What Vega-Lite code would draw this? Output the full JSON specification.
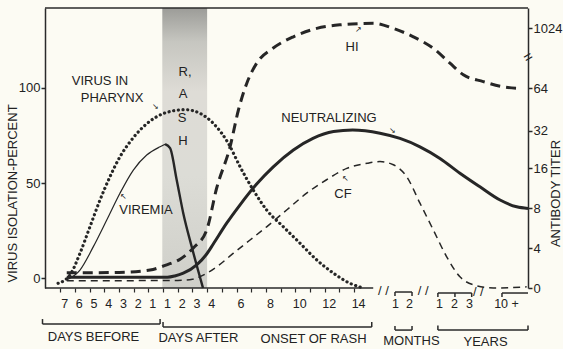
{
  "$schema": "https://vega.github.io/schema/vega-lite/v6.json",
  "width": 483,
  "height": 280,
  "autosize": {"type": "none"},
  "padding": {"left": 45, "top": 8, "right": 35, "bottom": 61},
  "background": "#fcfbf3",
  "config": {
    "view": {"stroke": null},
    "font": "Liberation Sans",
    "axis": {"labelFont": "Liberation Sans", "titleFont": "Liberation Sans", "labelColor": "#222222", "titleColor": "#222222", "domainColor": "#2a2a2a", "tickColor": "#2a2a2a", "grid": false}
  },
  "datasets": {
    "band": [{"t": -0.05, "t2": 3.0, "y": -5.26, "y2": 142.1}],
    "virus": [
      {"series": "pharynx", "t": -7.14, "y": -2.8},
      {"series": "pharynx", "t": -6.33, "y": 1.6},
      {"series": "pharynx", "t": -5.65, "y": 13},
      {"series": "pharynx", "t": -4.97, "y": 27},
      {"series": "pharynx", "t": -4.29, "y": 41},
      {"series": "pharynx", "t": -3.61, "y": 53.3},
      {"series": "pharynx", "t": -2.93, "y": 63.8},
      {"series": "pharynx", "t": -2.24, "y": 71.7},
      {"series": "pharynx", "t": -1.34, "y": 79.6},
      {"series": "pharynx", "t": -0.43, "y": 84.9},
      {"series": "pharynx", "t": 0.7, "y": 88},
      {"series": "pharynx", "t": 1.5, "y": 88.6},
      {"series": "pharynx", "t": 2.5, "y": 86.7},
      {"series": "pharynx", "t": 3.42, "y": 81.4},
      {"series": "pharynx", "t": 4.44, "y": 70.9},
      {"series": "pharynx", "t": 5.24, "y": 58.6},
      {"series": "pharynx", "t": 6.14, "y": 46.3},
      {"series": "pharynx", "t": 7.05, "y": 35.8},
      {"series": "pharynx", "t": 8.18, "y": 27},
      {"series": "pharynx", "t": 9.32, "y": 18.3},
      {"series": "pharynx", "t": 10.46, "y": 9.5},
      {"series": "pharynx", "t": 11.6, "y": 2.5},
      {"series": "pharynx", "t": 12.72, "y": -2.8},
      {"series": "pharynx", "t": 13.6, "y": -5.2},
      {"series": "viremia_rise", "t": -6.55, "y": -1},
      {"series": "viremia_rise", "t": -5.65, "y": 4.2},
      {"series": "viremia_rise", "t": -4.74, "y": 16.5},
      {"series": "viremia_rise", "t": -3.83, "y": 30.5},
      {"series": "viremia_rise", "t": -2.93, "y": 44.6},
      {"series": "viremia_rise", "t": -2.02, "y": 56.8},
      {"series": "viremia_rise", "t": -1.11, "y": 64.7},
      {"series": "viremia_rise", "t": -0.2, "y": 69.1},
      {"series": "viremia_rise", "t": 0.14, "y": 70.4},
      {"series": "viremia_fall", "t": 0.14, "y": 70.4},
      {"series": "viremia_fall", "t": 0.48, "y": 68.3},
      {"series": "viremia_fall", "t": 0.93, "y": 51.6},
      {"series": "viremia_fall", "t": 1.38, "y": 34},
      {"series": "viremia_fall", "t": 1.95, "y": 16.5},
      {"series": "viremia_fall", "t": 2.72, "y": -5.26}
    ],
    "antibody": [
      {"series": "HI", "t": -6.55, "v": 0.38},
      {"series": "HI", "t": -3, "v": 0.39},
      {"series": "HI", "t": -0.88, "v": 0.45},
      {"series": "HI", "t": 0.25, "v": 0.58},
      {"series": "HI", "t": 1.16, "v": 0.72},
      {"series": "HI", "t": 2.06, "v": 1.0},
      {"series": "HI", "t": 2.97, "v": 1.45},
      {"series": "HI", "t": 3.65, "v": 2.5},
      {"series": "HI", "t": 4.56, "v": 3.53},
      {"series": "HI", "t": 5.13, "v": 4.45},
      {"series": "HI", "t": 5.7, "v": 5.12},
      {"series": "HI", "t": 6.37, "v": 5.62},
      {"series": "HI", "t": 7.5, "v": 6.0},
      {"series": "HI", "t": 8.87, "v": 6.28},
      {"series": "HI", "t": 10.46, "v": 6.49},
      {"series": "HI", "t": 12.04, "v": 6.58},
      {"series": "HI", "t": 13.3, "v": 6.61},
      {"series": "HI", "t": 14.31, "v": 6.62},
      {"series": "HI", "t": 15.67, "v": 6.49},
      {"series": "HI", "t": 17.03, "v": 6.28},
      {"series": "HI", "t": 18.39, "v": 5.99},
      {"series": "HI", "t": 19.52, "v": 5.62},
      {"series": "HI", "t": 20.43, "v": 5.33},
      {"series": "HI", "t": 21.79, "v": 5.16},
      {"series": "HI", "t": 23.15, "v": 5.03},
      {"series": "HI", "t": 24.29, "v": 4.99},
      {"series": "NEUT", "t": -6.55, "v": 0.27},
      {"series": "NEUT", "t": 0.3, "v": 0.27},
      {"series": "NEUT", "t": 0.8, "v": 0.3},
      {"series": "NEUT", "t": 1.38, "v": 0.37},
      {"series": "NEUT", "t": 2.29, "v": 0.58},
      {"series": "NEUT", "t": 2.97, "v": 0.85},
      {"series": "NEUT", "t": 3.42, "v": 1.1},
      {"series": "NEUT", "t": 4.33, "v": 1.62},
      {"series": "NEUT", "t": 5.24, "v": 2.08},
      {"series": "NEUT", "t": 6.37, "v": 2.6},
      {"series": "NEUT", "t": 7.5, "v": 3.03},
      {"series": "NEUT", "t": 8.87, "v": 3.45},
      {"series": "NEUT", "t": 10.2, "v": 3.74},
      {"series": "NEUT", "t": 11.6, "v": 3.91},
      {"series": "NEUT", "t": 12.9, "v": 3.95},
      {"series": "NEUT", "t": 14.76, "v": 3.87},
      {"series": "NEUT", "t": 16.12, "v": 3.74},
      {"series": "NEUT", "t": 17.48, "v": 3.53},
      {"series": "NEUT", "t": 18.84, "v": 3.24},
      {"series": "NEUT", "t": 20.2, "v": 2.87},
      {"series": "NEUT", "t": 21.56, "v": 2.53},
      {"series": "NEUT", "t": 22.93, "v": 2.2},
      {"series": "NEUT", "t": 24.06, "v": 2.03},
      {"series": "NEUT", "t": 24.83, "v": 1.99},
      {"series": "CF", "t": -6.55, "v": 0.18},
      {"series": "CF", "t": 1.0, "v": 0.19},
      {"series": "CF", "t": 2.0, "v": 0.22},
      {"series": "CF", "t": 2.5, "v": 0.28},
      {"series": "CF", "t": 3.65, "v": 0.53},
      {"series": "CF", "t": 4.79, "v": 0.87},
      {"series": "CF", "t": 5.92, "v": 1.2},
      {"series": "CF", "t": 7.05, "v": 1.53},
      {"series": "CF", "t": 8.41, "v": 1.95},
      {"series": "CF", "t": 9.77, "v": 2.37},
      {"series": "CF", "t": 11.1, "v": 2.7},
      {"series": "CF", "t": 12.5, "v": 2.99},
      {"series": "CF", "t": 13.9, "v": 3.12},
      {"series": "CF", "t": 14.76, "v": 3.16},
      {"series": "CF", "t": 15.67, "v": 3.08},
      {"series": "CF", "t": 16.58, "v": 2.78},
      {"series": "CF", "t": 17.48, "v": 2.12},
      {"series": "CF", "t": 18.39, "v": 1.45},
      {"series": "CF", "t": 19.3, "v": 0.78},
      {"series": "CF", "t": 20.2, "v": 0.28},
      {"series": "CF", "t": 21.11, "v": 0.08},
      {"series": "CF", "t": 22.47, "v": 0.0},
      {"series": "CF", "t": 24.74, "v": 0.03}
    ],
    "segments": [
      {"t": -8.03, "t2": 14.3, "y": -5.26, "y2": -5.26},
      {"t": -8.03, "t2": 24.83, "y": 142.1, "y2": 142.1},
      {"t": 15.78, "t2": 16.94, "y": -7.37, "y2": -7.37},
      {"t": 15.78, "t2": 15.78, "y": -7.37, "y2": -9.5},
      {"t": 16.94, "t2": 16.94, "y": -7.37, "y2": -9.5},
      {"t": 18.7, "t2": 21.0, "y": -7.9, "y2": -7.9},
      {"t": 18.7, "t2": 18.7, "y": -7.9, "y2": -10},
      {"t": 19.86, "t2": 19.86, "y": -7.9, "y2": -10},
      {"t": 21.0, "t2": 21.0, "y": -7.9, "y2": -10},
      {"t": 23.06, "t2": 24.83, "y": -7.9, "y2": -7.9},
      {"t": 23.06, "t2": 23.06, "y": -7.9, "y2": -10},
      {"t": -8.2, "t2": -0.2, "y": -24.2, "y2": -24.2},
      {"t": -8.2, "t2": -8.2, "y": -24.2, "y2": -21.6},
      {"t": -0.2, "t2": -0.2, "y": -24.2, "y2": -21.6},
      {"t": 0.0, "t2": 14.2, "y": -25.8, "y2": -25.8},
      {"t": 0.0, "t2": 0.0, "y": -25.8, "y2": -23.2},
      {"t": 14.2, "t2": 14.2, "y": -25.8, "y2": -23.2},
      {"t": 15.78, "t2": 16.94, "y": -27.4, "y2": -27.4},
      {"t": 15.78, "t2": 15.78, "y": -27.4, "y2": -25.3},
      {"t": 16.94, "t2": 16.94, "y": -27.4, "y2": -25.3},
      {"t": 18.7, "t2": 24.83, "y": -27.4, "y2": -27.4},
      {"t": 18.7, "t2": 18.7, "y": -27.4, "y2": -25.0},
      {"t": 24.83, "t2": 24.83, "y": -27.4, "y2": -25.0}
    ],
    "labels": [
      {"text": "DAYS BEFORE", "t": -4.73, "y": -31},
      {"text": "DAYS AFTER", "t": 2.41, "y": -31.6},
      {"text": "ONSET OF RASH", "t": 10.24, "y": -32.1},
      {"text": "MONTHS", "t": 16.9, "y": -33.2},
      {"text": "YEARS", "t": 21.94, "y": -33.7},
      {"text": "VIRUS IN", "t": -4.29, "y": 103.7},
      {"text": "PHARYNX", "t": -3.47, "y": 94.7},
      {"text": "VIREMIA", "t": -1.16, "y": 35.8},
      {"text": "NEUTRALIZING", "t": 11.29, "y": 84.2},
      {"text": "HI", "t": 12.86, "y": 121.6},
      {"text": "CF", "t": 12.24, "y": 44.2},
      {"text": "R,", "t": 1.5, "y": 108.4},
      {"text": "A", "t": 1.36, "y": 96.8},
      {"text": "S", "t": 1.29, "y": 84.2},
      {"text": "H", "t": 1.36, "y": 72.1}
    ],
    "arrows": [
      {"text": "↘", "t": -0.54, "y": 90},
      {"text": "↖", "t": -2.72, "y": 42.6},
      {"text": "↘", "t": 15.58, "y": 77.4},
      {"text": "↗", "t": 13.27, "y": 130.5},
      {"text": "↖", "t": 12.4, "y": 52.3}
    ],
    "breaks": [
      {"text": "/ /", "t": 15.0, "y": -6.8},
      {"text": "/ /", "t": 17.7, "y": -6.8},
      {"text": "/ /", "t": 21.45, "y": -7.2}
    ],
    "axisbreak": [{"text": "=", "t": 24.83, "y": 116.3}]
  },
  "encoding": {
    "x": {"field": "t", "type": "quantitative", "scale": {"domain": [-8.03, 24.83], "nice": false, "zero": false},
      "axis": {"orient": "bottom", "domain": false, "title": null,
        "values": [-7, -6, -5, -4, -3, -2, -1, 0, 1, 2, 3, 4, 5, 6, 7, 8, 9, 10, 11, 12, 13, 15.51, 16.46, 18.5, 19.52, 20.54, 23.06],
        "labelExpr": "datum.value < -0.5 ? format(-datum.value, 'd') : datum.value < 13.5 ? (indexof([0,1,2,3,5,7,9,11,13], round(datum.value)) >= 0 ? format(round(datum.value) + 1, 'd') : '') : datum.value < 16 ? '1' : datum.value < 17 ? '2' : datum.value < 19 ? '1' : datum.value < 20 ? '2' : datum.value < 21 ? '3' : '10 +'",
        "tickSize": 4, "tickWidth": 1.2, "labelPadding": 5, "labelFontSize": 12.5, "labelOffset": 4, "labelAngle": 0,
        "labelOverlap": false, "labelFlush": false, "labelBound": false,
        "tickOpacity": {"condition": {"test": "datum.value > 14", "value": 0}, "value": 1}}}
  },
  "layer": [
    {
      "encoding": {
        "y": {"field": "y", "type": "quantitative", "scale": {"domain": [-5.26, 142.1], "nice": false, "zero": false},
          "axis": {"orient": "left", "values": [0, 50, 100], "title": "VIRUS ISOLATION-PERCENT", "titleFontSize": 13, "titleFontWeight": "normal",
            "titleX": -33, "titleY": 185, "titleAngle": 270, "titleAlign": "center", "titleBaseline": "middle",
            "labelFontSize": 13, "tickSize": 4, "labelPadding": 1, "domainWidth": 1.5, "tickWidth": 1.5}}
      },
      "layer": [
        {
          "data": {"name": "band"},
          "mark": {"type": "rect", "color": {"gradient": "linear", "x1": 0, "y1": 0, "x2": 0, "y2": 1, "stops": [{"offset": 0, "color": "#9c9c98"}, {"offset": 0.12, "color": "#c6c6c0"}, {"offset": 0.3, "color": "#dedcd6"}, {"offset": 0.6, "color": "#dcdcd6"}, {"offset": 1, "color": "#cfcfc9"}]}},
          "encoding": {"x2": {"field": "t2"}, "y2": {"field": "y2"}}
        },
        {
          "data": {"name": "segments"},
          "mark": {"type": "rule", "color": "#2a2a2a", "strokeWidth": 1.5},
          "encoding": {"x2": {"field": "t2"}, "y2": {"field": "y2"}}
        },
        {
          "data": {"name": "virus"},
          "transform": [{"filter": "datum.series == 'pharynx'"}],
          "mark": {"type": "line", "interpolate": "monotone", "strokeWidth": 3.2, "strokeDash": [0.1, 4.6], "strokeCap": "round", "color": "#262626"},
          "encoding": {}
        },
        {
          "data": {"name": "virus"},
          "transform": [{"filter": "datum.series == 'viremia_rise'"}],
          "mark": {"type": "line", "interpolate": "monotone", "strokeWidth": 1.2, "color": "#262626"},
          "encoding": {}
        },
        {
          "data": {"name": "virus"},
          "transform": [{"filter": "datum.series == 'viremia_fall'"}],
          "mark": {"type": "line", "interpolate": "monotone", "strokeWidth": 2.4, "color": "#262626"},
          "encoding": {}
        },
        {
          "data": {"name": "labels"},
          "mark": {"type": "text", "fontSize": 13, "color": "#222222", "align": "center", "baseline": "middle"},
          "encoding": {"text": {"field": "text"}}
        },
        {
          "data": {"name": "arrows"},
          "mark": {"type": "text", "fontSize": 8, "color": "#222222", "align": "center", "baseline": "middle"},
          "encoding": {"text": {"field": "text"}}
        },
        {
          "data": {"name": "breaks"},
          "mark": {"type": "text", "fontSize": 13, "color": "#222222", "align": "center", "baseline": "middle"},
          "encoding": {"text": {"field": "text"}}
        },
        {
          "data": {"name": "axisbreak"},
          "mark": {"type": "text", "fontSize": 15, "color": "#222222", "align": "center", "baseline": "middle", "angle": 330},
          "encoding": {"text": {"field": "text"}}
        }
      ]
    },
    {
      "encoding": {
        "y": {"field": "v", "type": "quantitative", "scale": {"domain": [0, 7], "nice": false, "zero": false},
          "axis": {"orient": "right", "values": [0, 1, 2, 3, 3.93, 5, 6.5],
            "labelExpr": "datum.value < 0.5 ? '0' : datum.value < 1.5 ? '4' : datum.value < 2.5 ? '8' : datum.value < 3.5 ? '16' : datum.value < 4.5 ? '32' : datum.value < 5.5 ? '64' : '1024'",
            "title": "ANTIBODY TITER", "titleAngle": 270, "titleX": 27, "titleY": 185, "titleAlign": "center", "titleBaseline": "middle",
            "titleFontSize": 13, "titleFontWeight": "normal", "labelFontSize": 13, "tickSize": 4, "labelPadding": 1, "domainWidth": 1.5, "tickWidth": 1.5}}
      },
      "layer": [
        {
          "data": {"name": "antibody"},
          "transform": [{"filter": "datum.series == 'HI'"}],
          "mark": {"type": "line", "interpolate": "monotone", "strokeWidth": 3, "strokeDash": [10, 6], "color": "#262626"},
          "encoding": {}
        },
        {
          "data": {"name": "antibody"},
          "transform": [{"filter": "datum.series == 'NEUT'"}],
          "mark": {"type": "line", "interpolate": "monotone", "strokeWidth": 3, "color": "#262626"},
          "encoding": {}
        },
        {
          "data": {"name": "antibody"},
          "transform": [{"filter": "datum.series == 'CF'"}],
          "mark": {"type": "line", "interpolate": "monotone", "strokeWidth": 1.5, "strokeDash": [7, 5], "color": "#262626"},
          "encoding": {}
        }
      ]
    }
  ],
  "resolve": {"scale": {"y": "independent"}, "axis": {"y": "independent"}}
}
